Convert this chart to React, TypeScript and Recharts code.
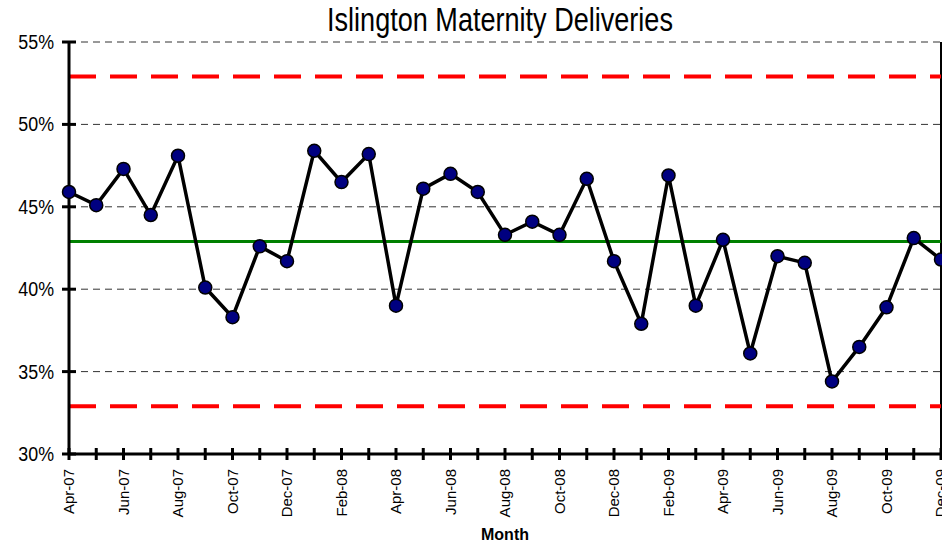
import React from "react";
import {
  LineChart,
  Line,
  XAxis,
  YAxis,
  CartesianGrid,
  ReferenceLine,
} from "recharts";

const months = [
  "Apr-07", "May-07", "Jun-07", "Jul-07", "Aug-07", "Sep-07", "Oct-07", "Nov-07", "Dec-07",
  "Jan-08", "Feb-08", "Mar-08", "Apr-08", "May-08", "Jun-08", "Jul-08", "Aug-08", "Sep-08",
  "Oct-08", "Nov-08", "Dec-08", "Jan-09", "Feb-09", "Mar-09", "Apr-09", "May-09", "Jun-09",
  "Jul-09", "Aug-09", "Sep-09", "Oct-09", "Nov-09", "Dec-09",
];

const deliveries = [
  45.9, 45.1, 47.3, 44.5, 48.1, 40.1, 38.3, 42.6, 41.7,
  48.4, 46.5, 48.2, 39.0, 46.1, 47.0, 45.9, 43.3, 44.1,
  43.3, 46.7, 41.7, 37.9, 46.9, 39.0, 43.0, 36.1, 42.0,
  41.6, 34.4, 36.5, 38.9, 43.1, 41.8,
];

const yTicks = [30, 35, 40, 45, 50, 55];
const centerLine = 42.9;
const upperLimit = 52.9;
const lowerLimit = 32.9;

const data = months.map((m, i) => ({ month: m, value: deliveries[i] }));

const FONT = "'Liberation Sans', Arial, sans-serif";

const XTick = (props: any) => {
  const { x, y, index, payload } = props;
  return (
    <g>
      <line x1={x} y1={y - 6} x2={x} y2={y + 6} stroke="#000" strokeWidth={3} />
      {index % 2 === 0 && (
        <text
          x={0}
          y={0}
          transform={`translate(${x + 5}, ${y + 15}) rotate(-90)`}
          textAnchor="end"
          fontFamily={FONT}
          fontSize={15}
          fill="#000"
        >
          {payload.value}
        </text>
      )}
    </g>
  );
};

const YTick = (props: any) => {
  const { x, y, payload } = props;
  return (
    <g>
      <line x1={x - 7} y1={y} x2={x + 7} y2={y} stroke="#000" strokeWidth={3} />
      <text
        x={0}
        y={0}
        transform={`translate(${x - 15}, ${y + 7}) scale(0.85, 1)`}
        textAnchor="end"
        fontFamily={FONT}
        fontSize={21}
        fill="#000"
      >
        {payload.value + "%"}
      </text>
    </g>
  );
};

export default function App() {
  return (
    <div style={{ position: "absolute", left: 0, top: 0, width: 942, height: 544, background: "#fff" }}>
      <div
        style={{
          position: "absolute",
          left: 0,
          top: 1,
          width: 1000,
          textAlign: "center",
          fontFamily: FONT,
          fontSize: 33,
          color: "#000",
          transform: "scaleX(0.82)",
          transformOrigin: "500px 0",
        }}
      >
        Islington Maternity Deliveries
      </div>
      <LineChart
        width={942}
        height={544}
        data={data}
        margin={{ top: 42, right: 1, bottom: 0, left: 0 }}
      >
        <CartesianGrid vertical={false} stroke="#333" strokeDasharray="7 5" />
        <XAxis
          dataKey="month"
          scale="point"
          padding={{ left: 0, right: 0 }}
          interval={0}
          height={90}
          tickSize={0}
          tickMargin={0}
          tickLine={false}
          axisLine={{ stroke: "#000", strokeWidth: 3 }}
          tick={<XTick />}
          label={{
            value: "Month",
            position: "insideBottom",
            offset: 4,
            fontFamily: FONT,
            fontSize: 16,
            fontWeight: "bold",
            fill: "#000",
          }}
        />
        <YAxis
          domain={[30, 55]}
          ticks={yTicks}
          width={69}
          tickSize={0}
          tickMargin={0}
          tickLine={false}
          axisLine={{ stroke: "#000", strokeWidth: 3 }}
          tick={<YTick />}
        />
        <ReferenceLine x="Dec-09" stroke="#000" strokeWidth={2} />
        <ReferenceLine y={upperLimit} stroke="#ff0000" strokeWidth={4} strokeDasharray="27 14" />
        <ReferenceLine y={lowerLimit} stroke="#ff0000" strokeWidth={4} strokeDasharray="27 14" />
        <ReferenceLine y={centerLine} stroke="#008000" strokeWidth={3} />
        <Line
          type="linear"
          dataKey="value"
          stroke="#000"
          strokeWidth={3.5}
          dot={{ r: 6.5, fill: "#000080", stroke: "#000", strokeWidth: 1.5 }}
          isAnimationActive={false}
        />
      </LineChart>
    </div>
  );
}
